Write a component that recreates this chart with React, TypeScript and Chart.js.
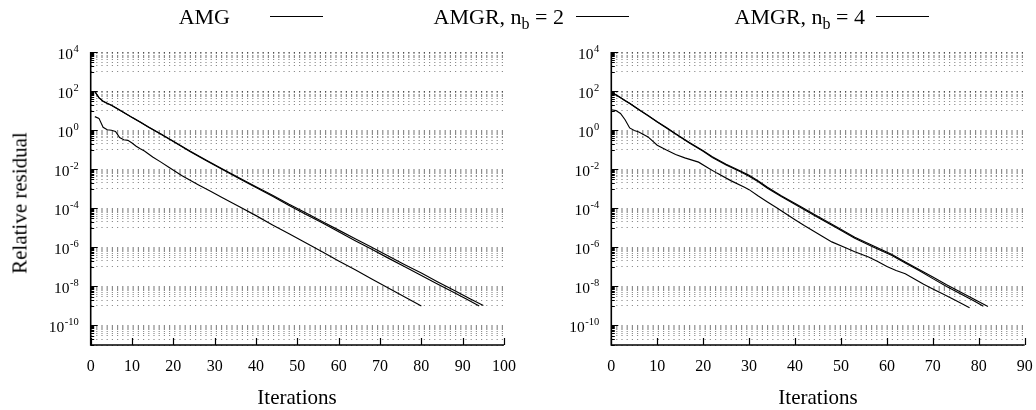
import React, { useEffect, useRef } from "react";
import { Chart, registerables } from "chart.js";

Chart.register(...registerables);

const FONT = '"Liberation Serif", "Times New Roman", Times, serif';

// ---- axis ticks ----
const yMajorExponents = [4, 2, 0, -2, -4, -6, -8, -10];
const yMinorMultipliers = [1, 2, 3, 4, 5, 6, 7, 8, 9];
const yMin = 1e-11;
const yMax = 1e4;
const leftXTicks = [0, 10, 20, 30, 40, 50, 60, 70, 80, 90, 100];
const rightXTicks = [0, 10, 20, 30, 40, 50, 60, 70, 80, 90];

// ---- left panel data ----
const leftAmgIter = [1, 2, 3, 4, 5, 6, 7, 8, 9, 10, 11, 12, 13, 14, 15, 17, 19, 22, 26, 29, 32, 36, 40, 44, 48, 52, 56, 60, 64, 68, 72, 76, 80];
const leftAmgRes = [4.9, 4.0, 1.4, 1.05, 0.98, 0.85, 0.42, 0.32, 0.30, 0.22, 0.15, 0.11, 0.085, 0.06, 0.042, 0.023, 0.0123, 4.7e-3, 1.6e-3, 7.4e-4, 3.4e-4, 1.2e-4, 4.2e-5, 1.4e-5, 4.9e-6, 1.7e-6, 5.9e-7, 2.0e-7, 7.1e-8, 2.4e-8, 8.3e-9, 2.9e-9, 1.0e-9];

const leftNb2Iter = [1, 2, 3, 4, 5, 6, 8, 10, 12, 14, 17, 20, 24, 28, 32, 36, 40, 44, 48, 52, 56, 60, 64, 68, 72, 76, 80, 84, 88, 91, 94];
const leftNb2Res = [93, 45, 30, 23, 18.6, 14, 7.9, 4.4, 2.5, 1.4, 0.62, 0.26, 0.081, 0.027, 9.3e-3, 3.2e-3, 1.15e-3, 4.1e-4, 1.4e-4, 5.0e-5, 1.8e-5, 6.3e-6, 2.2e-6, 7.9e-7, 2.8e-7, 1.02e-7, 3.6e-8, 1.3e-8, 4.7e-9, 2.2e-9, 1.0e-9];

const leftNb4Iter = [1, 2, 3, 4, 5, 6, 8, 10, 12, 14, 17, 20, 24, 28, 32, 36, 40, 44, 48, 52, 56, 60, 64, 68, 72, 76, 80, 84, 88, 92, 95];
const leftNb4Res = [95, 46, 30, 24, 19, 14.5, 8.1, 4.5, 2.6, 1.45, 0.63, 0.27, 0.085, 0.029, 0.010, 3.5e-3, 1.26e-3, 4.6e-4, 1.6e-4, 5.9e-5, 2.1e-5, 7.6e-6, 2.75e-6, 1.0e-6, 3.6e-7, 1.3e-7, 4.8e-8, 1.7e-8, 6.2e-9, 2.2e-9, 1.05e-9];

// ---- right panel data ----
const rightAmgIter = [0, 1, 2, 3, 4, 5, 6, 8, 10, 12, 14, 16, 19, 21, 23, 26, 29, 30, 32, 34, 36, 38, 40, 42, 44, 46, 48, 51, 53, 56, 58, 60, 62, 64, 66, 68, 70, 72, 75, 78];
const rightAmgRes = [11, 10, 7.1, 3.4, 1.3, 0.95, 0.81, 0.45, 0.17, 0.095, 0.057, 0.038, 0.023, 0.012, 6.3e-3, 2.6e-3, 1.2e-3, 9.0e-4, 4.2e-4, 2.1e-4, 1.05e-4, 5.2e-5, 2.6e-5, 1.3e-5, 6.9e-6, 3.6e-6, 1.9e-6, 9.5e-7, 6.0e-7, 3.2e-7, 1.9e-7, 1.05e-7, 6.5e-8, 4.4e-8, 2.4e-8, 1.3e-8, 7.4e-9, 4.3e-9, 1.9e-9, 8.0e-10];

const rightNb2Iter = [0, 1, 2, 3, 4, 6, 8, 10, 12, 14, 17, 20, 22, 25, 28, 30, 32, 34, 37, 41, 45, 49, 53, 57, 61, 64, 67, 70, 73, 76, 79, 81];
const rightNb2Res = [87, 63, 46, 32, 23, 11, 5.5, 2.6, 1.3, 0.63, 0.22, 0.083, 0.040, 0.0166, 7.6e-3, 4.4e-3, 2.3e-3, 1.07e-3, 4.0e-4, 1.17e-4, 3.4e-5, 1.0e-5, 2.95e-6, 1.05e-6, 3.9e-7, 1.6e-7, 6.5e-8, 2.5e-8, 1.0e-8, 4.2e-9, 1.8e-9, 9.5e-10];

const rightNb4Iter = [0, 1, 2, 3, 4, 6, 8, 10, 12, 14, 17, 20, 22, 25, 28, 30, 32, 34, 37, 41, 45, 49, 53, 57, 61, 64, 67, 70, 73, 76, 79, 82];
const rightNb4Res = [90, 65, 47, 33, 24, 11.5, 5.7, 2.7, 1.35, 0.66, 0.23, 0.088, 0.043, 0.018, 8.3e-3, 4.9e-3, 2.5e-3, 1.2e-3, 4.4e-4, 1.3e-4, 3.8e-5, 1.12e-5, 3.3e-6, 1.2e-6, 4.4e-7, 1.8e-7, 7.4e-8, 3.0e-8, 1.2e-8, 5.2e-9, 2.2e-9, 9.3e-10];

const seriesNames = ["AMG", "AMGR, nb = 2", "AMGR, nb = 4"];

function buildYTicks(): number[] {
  const vals: number[] = [];
  for (const e of yMajorExponents) {
    vals.push(Math.pow(10, e));
    for (const m of yMinorMultipliers) {
      const v = m * Math.pow(10, e - 1);
      if (v >= yMin * 0.999 && v < Math.pow(10, e)) vals.push(v);
    }
  }
  return vals.sort((a, b) => a - b);
}

function isMajor(v: number): boolean {
  return yMajorExponents.some((e) => Math.abs(Math.log10(v) - e) < 1e-6);
}

function makePlugin(xTicks: number[]) {
  return {
    id: "gnuplotAxes",
    afterDraw(chart: any) {
      const { ctx, chartArea: ca, scales } = chart;
      const xs = scales.x;
      const ys = scales.y;
      ctx.save();
      ctx.strokeStyle = "#000";
      ctx.lineWidth = 1.6;
      ctx.beginPath();
      ctx.moveTo(ca.left, ca.top);
      ctx.lineTo(ca.left, ca.bottom);
      ctx.lineTo(ca.right, ca.bottom);
      ctx.stroke();
      ctx.lineWidth = 1.2;
      for (const t of xTicks) {
        const px = Math.round(xs.getPixelForValue(t)) + 0.5;
        ctx.beginPath();
        ctx.moveTo(px, ca.bottom);
        ctx.lineTo(px, ca.bottom - 7);
        ctx.stroke();
      }
      ctx.lineWidth = 1;
      for (const tk of ys.ticks) {
        const py = Math.round(ys.getPixelForValue(tk.value)) + 0.5;
        const len = isMajor(tk.value) ? 7 : 3.5;
        ctx.beginPath();
        ctx.moveTo(ca.left, py);
        ctx.lineTo(ca.left + len, py);
        ctx.stroke();
      }
      ctx.fillStyle = "#000";
      ctx.font = `16px ${FONT}`;
      ctx.textAlign = "center";
      ctx.textBaseline = "middle";
      for (const t of xTicks) {
        ctx.fillText(String(t), xs.getPixelForValue(t), ca.bottom + 22);
      }
      ctx.textAlign = "right";
      for (const e of yMajorExponents) {
        const py = ys.getPixelForValue(Math.pow(10, e));
        const right = ca.left - 12;
        ctx.font = `10.5px ${FONT}`;
        const expStr = String(e);
        const w = ctx.measureText(expStr).width;
        ctx.fillText(expStr, right, py - 3);
        ctx.font = `15.5px ${FONT}`;
        ctx.fillText("10", right - w - 0.5, py + 2.5);
      }
      ctx.restore();
    },
  };
}

function toPoints(iters: number[], vals: number[]) {
  return iters.map((x, i) => ({ x, y: vals[i] }));
}

function Panel(props: {
  left: number;
  padLeft: number;
  padRight: number;
  xMax: number;
  xTicks: number[];
  series: { iters: number[]; vals: number[] }[];
}) {
  const ref = useRef<HTMLCanvasElement | null>(null);
  useEffect(() => {
    if (!ref.current) return;
    const yTicks = buildYTicks();
    const chart = new Chart(ref.current, {
      type: "line",
      data: {
        datasets: props.series.map((s, i) => ({
          label: seriesNames[i],
          data: toPoints(s.iters, s.vals),
          borderColor: "#000",
          borderWidth: 1.15,
          pointRadius: 0,
          tension: 0,
          fill: false,
        })),
      },
      options: {
        animation: false,
        responsive: false,
        maintainAspectRatio: false,
        devicePixelRatio: 1,
        layout: { padding: { left: props.padLeft, right: props.padRight, top: 52, bottom: 65 } },
        plugins: { legend: { display: false }, tooltip: { enabled: false } },
        scales: {
          x: {
            type: "linear",
            min: 0,
            max: props.xMax,
            ticks: { display: false },
            grid: { display: false, drawTicks: false },
            border: { display: false },
          },
          y: {
            type: "logarithmic",
            min: yMin,
            max: yMax,
            afterBuildTicks: (scale: any) => {
              scale.ticks = yTicks.map((v) => ({ value: v, major: isMajor(v) }));
            },
            ticks: { display: false },
            grid: {
              display: true,
              drawTicks: false,
              drawOnChartArea: true,
              color: "rgba(0,0,0,0.45)",
              lineWidth: 1,
            },
            border: { display: false, dash: [1.2, 4] },
          },
        },
      } as any,
      plugins: [makePlugin(props.xTicks)],
    });
    return () => chart.destroy();
  }, []);
  return (
    <canvas
      ref={ref}
      width={518}
      height={410}
      style={{ position: "absolute", left: props.left, top: 0, width: 518, height: 410 }}
    />
  );
}

function LegendEntry(props: { textRight: number; lineLeft: number; nb?: string; label: string }) {
  return (
    <>
      <div
        style={{
          position: "absolute",
          right: 1036 - props.textRight,
          top: 5,
          fontFamily: FONT,
          fontSize: 22,
          lineHeight: "24px",
          whiteSpace: "nowrap",
          color: "#000",
        }}
      >
        {props.nb ? (
          <>
            {props.label}, n<span style={{ fontSize: 16, position: "relative", top: 5 }}>b</span> = {props.nb}
          </>
        ) : (
          props.label
        )}
      </div>
      <div
        style={{
          position: "absolute",
          left: props.lineLeft,
          top: 16,
          width: 53,
          height: 0,
          borderTop: "1px solid #000",
        }}
      />
    </>
  );
}

export default function App() {
  const leftSeries = [
    { iters: leftAmgIter, vals: leftAmgRes },
    { iters: leftNb2Iter, vals: leftNb2Res },
    { iters: leftNb4Iter, vals: leftNb4Res },
  ];
  const rightSeries = [
    { iters: rightAmgIter, vals: rightAmgRes },
    { iters: rightNb2Iter, vals: rightNb2Res },
    { iters: rightNb4Iter, vals: rightNb4Res },
  ];
  return (
    <div
      style={{
        position: "fixed",
        left: 0,
        top: 0,
        width: 1036,
        height: 410,
        background: "#fff",
        overflow: "hidden",
      }}
    >
      <Panel left={0} padLeft={90.7} padRight={14} xMax={100} xTicks={leftXTicks} series={leftSeries} />
      <Panel left={518} padLeft={93.3} padRight={11.3} xMax={90} xTicks={rightXTicks} series={rightSeries} />

      <LegendEntry label="AMG" textRight={230} lineLeft={270} />
      <LegendEntry label="AMGR" nb="2" textRight={564} lineLeft={576} />
      <LegendEntry label="AMGR" nb="4" textRight={865} lineLeft={876} />

      <div
        style={{
          position: "absolute",
          left: 20,
          top: 203,
          transform: "translate(-50%, -50%) rotate(-90deg)",
          fontFamily: FONT,
          fontSize: 21,
          whiteSpace: "nowrap",
          lineHeight: 1,
        }}
      >
        Relative residual
      </div>
      <div
        style={{
          position: "absolute",
          left: 297,
          top: 397,
          transform: "translate(-50%, -50%)",
          fontFamily: FONT,
          fontSize: 21,
          whiteSpace: "nowrap",
          lineHeight: 1,
        }}
      >
        Iterations
      </div>
      <div
        style={{
          position: "absolute",
          left: 818,
          top: 397,
          transform: "translate(-50%, -50%)",
          fontFamily: FONT,
          fontSize: 21,
          whiteSpace: "nowrap",
          lineHeight: 1,
        }}
      >
        Iterations
      </div>
    </div>
  );
}
